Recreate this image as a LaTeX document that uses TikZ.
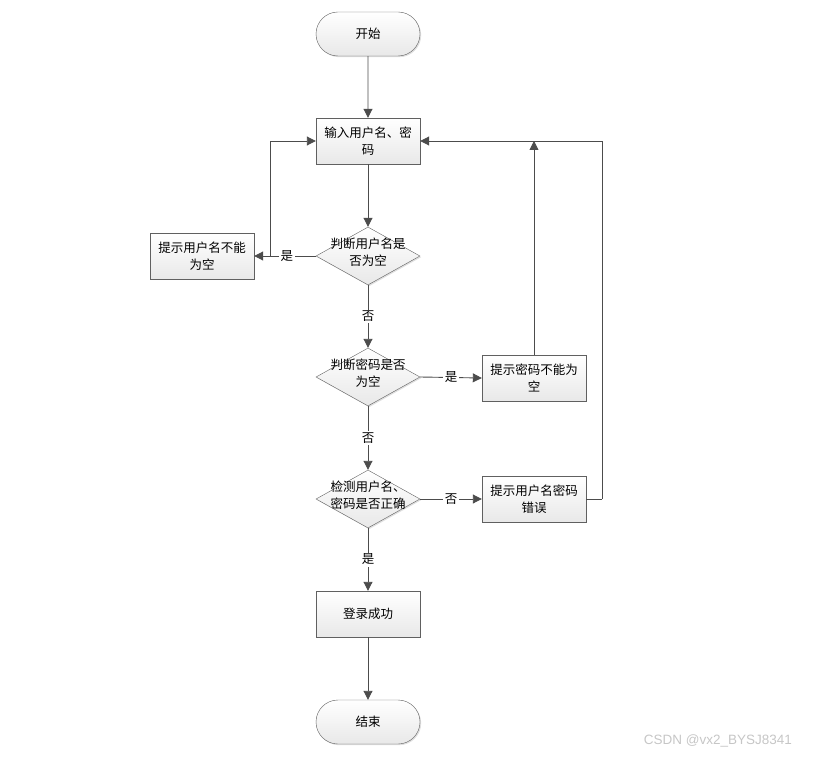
\documentclass[tikz,border=0pt]{standalone}
\usepackage{fontspec}
\setmainfont{Noto Sans CJK SC}
\newfontfamily\markfont{Liberation Sans}
\usetikzlibrary{shapes.geometric,shapes.misc,arrows.meta,shadows}

\newcommand{\dtext}[1]{\makebox[0pt]{\smash{\raisebox{-1pt}{\begin{tabular}{@{}c@{}}#1\end{tabular}}}}}

\tikzset{
    base/.style={draw=gray!75!black, top color=white, bottom color=gray!18,
        font=\fontsize{12.5}{17}\selectfont, align=center,
        drop shadow={opacity=.25, shadow xshift=1.2pt, shadow yshift=-1.2pt}},
    terminal/.style={base, rounded rectangle, minimum width=104pt, minimum height=44pt, inner sep=0pt},
    process/.style={base, rectangle, minimum width=104pt, minimum height=46pt, inner sep=0pt},
    decision/.style={base, diamond, minimum width=104pt, minimum height=58pt, inner sep=0pt},
    link/.style={draw=gray!60!black, line width=0.9pt, -{Triangle[width=9pt,length=9pt]}},
    plain/.style={draw=gray!60!black, line width=0.9pt},
    answer/.style={fill=white, inner sep=1.5pt, font=\fontsize{12.5}{14}\selectfont}
}

\begin{document}
\begin{tikzpicture}[x=1pt, y=-1pt]
    \useasboundingbox (0,0) rectangle (814,757);

    %%main column
    \node[terminal] (start) at (368,34) {开始};
    \node[process] (input) at (368,141) {输入用户名、密\\码};
    \node[decision] (nameempty) at (368,256) {\dtext{判断用户名是\\否为空}};
    \node[decision] (pwdempty) at (368,377) {\dtext{判断密码是否\\为空}};
    \node[decision] (check) at (368,499) {\dtext{检测用户名、\\密码是否正确}};
    \node[process] (success) at (368,614) {登录成功};
    \node[terminal] (stop) at (368,722) {结束};

    %%side boxes
    \node[process] (namemsg) at (202,256) {提示用户名不能\\为空};
    \node[process] (pwdmsg) at (534,378) {提示密码不能为\\空};
    \node[process] (errmsg) at (534,499) {提示用户名密码\\错误};

    %%down the column
    \draw[link] (start) -- (input);
    \draw[link] (input) -- (nameempty);
    \draw[link] (nameempty) -- node[answer] {否} (pwdempty);
    \draw[link] (pwdempty) -- node[answer] {否} (check);
    \draw[link] (check) -- node[answer] {是} (success);
    \draw[link] (success) -- (stop);

    %%branches
    \draw[link] (nameempty.west) -- node[answer, pos=.47] {是} (namemsg.east);
    \draw[link] (pwdempty.east) -- node[answer] {是} (pwdmsg.west);
    \draw[link] (check.east) -- node[answer] {否} (errmsg.west);

    %%loops back
    \coordinate (leftturn) at (270,256);
    \coordinate (rightturn) at (602,499);
    \draw[link] (leftturn) |- (input.west);
    \draw[plain] (errmsg.east) -- (rightturn);
    \draw[link] (rightturn) |- (input.east);
    \draw[link] (pwdmsg.north) -- (pwdmsg.north |- input.east);

    %%watermark
    \node[text=gray!45, font=\markfont\fontsize{13.5}{15}\selectfont] (mark) at (718,741) {CSDN @vx2\_BYSJ8341};
\end{tikzpicture}
\end{document}
